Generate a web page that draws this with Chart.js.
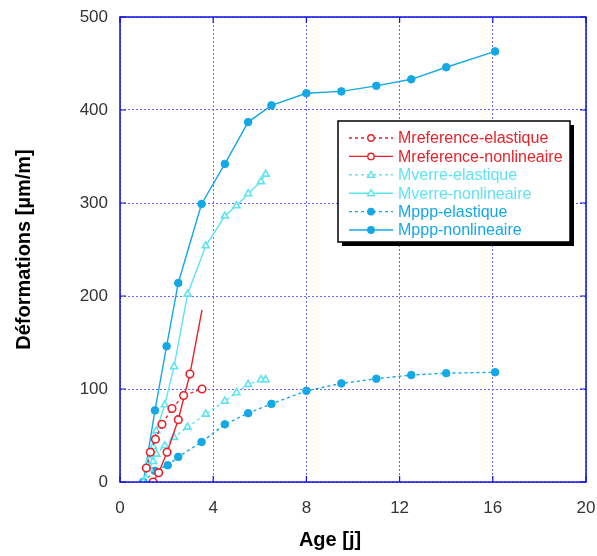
<!DOCTYPE html>
<html lang="fr">
<head>
<meta charset="UTF-8">
<title>Déformations - Age</title>
<script src="https://cdn.jsdelivr.net/npm/chart.js"></script>
<style>
    body { margin: 0; background: #ffffff; }
    .wrap { width: 597px; height: 556px; }
</style>
</head>
<body>
<div class="wrap"><canvas id="chart" width="597" height="556"></canvas></div>
<script>
    // Données
    const xTicks = [0, 4, 8, 12, 16, 20];
    const yTicks = [0, 100, 200, 300, 400, 500];

    const refElastAge = [1.13, 1.3, 1.52, 1.8, 2.23, 2.73, 3.52];
    const refElastDef = [15, 32, 46, 62, 79, 93, 100];

    const refNonlinAge = [1.42, 1.66, 2.02, 2.5, 3.0, 3.52];
    const refNonlinDef = [0, 10, 32, 67, 116, 185];

    const verreElastAge = [1, 1.27, 1.42, 1.56, 1.92, 2.32, 2.9, 3.68, 4.5, 5.0, 5.5, 6.05, 6.25];
    const verreElastDef = [0, 14, 22, 30, 39, 48, 59, 73, 87, 96, 105, 110, 110];

    const verreNonlinAge = [1, 1.27, 1.42, 1.56, 1.92, 2.32, 2.9, 3.68, 4.5, 5.0, 5.5, 6.05, 6.25];
    const verreNonlinDef = [0, 24, 38, 55, 83, 124, 202, 254, 286, 297, 310, 323, 331];

    const pppElastAge = [1, 1.5, 2.05, 2.5, 3.5, 4.5, 5.5, 6.5, 8, 9.5, 11, 12.5, 14, 16.1];
    const pppElastDef = [0, 12, 18, 27, 43, 62, 74, 84, 98, 106, 111, 115, 117, 118];

    const pppNonlinAge = [1, 1.5, 2.0, 2.5, 3.5, 4.5, 5.5, 6.5, 8, 9.5, 11, 12.5, 14, 16.1];
    const pppNonlinDef = [0, 77, 146, 214, 299, 342, 387, 405, 418, 420, 426, 433, 446, 463];

    const RED = '#e8222a';
    const CYAN = '#5fe3f2';
    const BLUE = '#14a8e6';
    const AXIS = '#1111dd';
    const FONT = '"Liberation Sans", Arial, sans-serif';

    function pts(xs, ys) {
        return xs.map((x, i) => ({ x: x, y: ys[i] }));
    }

    function serie(label, xs, ys, color, dotted, style, filled) {
        return {
            label: label,
            data: pts(xs, ys),
            showLine: true,
            borderColor: color,
            backgroundColor: filled ? color : '#ffffff',
            borderWidth: 1.4,
            borderDash: dotted ? [3, 3] : [],
            pointStyle: style,
            pointRadius: style === 'triangle' ? 4 : 3.8,
            pointBorderWidth: filled ? 1 : 1.6,
            pointBorderColor: color,
            pointBackgroundColor: filled ? color : '#ffffff',
            tension: 0
        };
    }

    const datasets = [
        serie('Mreference-elastique', refElastAge, refElastDef, RED, true, 'circle', false),
        serie('Mreference-nonlineaire', refNonlinAge, refNonlinDef, RED, false, 'circle', false),
        serie('Mverre-elastique', verreElastAge, verreElastDef, CYAN, true, 'triangle', false),
        serie('Mverre-nonlineaire', verreNonlinAge, verreNonlinDef, CYAN, false, 'triangle', false),
        serie('Mppp-elastique', pppElastAge, pppElastDef, BLUE, true, 'circle', true),
        serie('Mppp-nonlineaire', pppNonlinAge, pppNonlinDef, BLUE, false, 'circle', true)
    ];
    // pas de marqueur au bout de la courbe nonlineaire de référence
    datasets[1].pointRadius = refNonlinAge.map((_, i) => i === refNonlinAge.length - 1 ? 0 : 3.8);

    // cadre bleu + petites graduations intérieures + titre de l'axe X
    const framePlugin = {
        id: 'frame',
        afterDraw(chart) {
            const { ctx, chartArea: a, scales } = chart;
            ctx.save();
            ctx.strokeStyle = AXIS;
            ctx.lineWidth = 1.5;
            ctx.setLineDash([]);
            ctx.strokeRect(a.left, a.top, a.right - a.left, a.bottom - a.top);
            ctx.lineWidth = 1.2;
            const len = 6;
            xTicks.forEach(v => {
                const px = scales.x.getPixelForValue(v);
                ctx.beginPath();
                ctx.moveTo(px, a.bottom); ctx.lineTo(px, a.bottom - len);
                ctx.moveTo(px, a.top); ctx.lineTo(px, a.top + len);
                ctx.stroke();
            });
            yTicks.forEach(v => {
                const py = scales.y.getPixelForValue(v);
                ctx.beginPath();
                ctx.moveTo(a.left, py); ctx.lineTo(a.left + len, py);
                ctx.moveTo(a.right, py); ctx.lineTo(a.right - len, py);
                ctx.stroke();
            });
            ctx.fillStyle = '#000000';
            ctx.font = 'bold 20px ' + FONT;
            ctx.textAlign = 'center';
            ctx.textBaseline = 'middle';
            ctx.fillText('Age [j]', 330, 540);
            ctx.restore();
        }
    };

    // légende encadrée avec ombre, dans la zone du graphique
    const legendPlugin = {
        id: 'boxLegend',
        afterDraw(chart) {
            const ctx = chart.ctx;
            const bx = 338, by = 121, bw = 232, bh = 121;
            ctx.save();
            ctx.fillStyle = '#000000';
            ctx.fillRect(bx + 4, by + 4, bw, bh);
            ctx.fillStyle = '#ffffff';
            ctx.fillRect(bx, by, bw, bh);
            ctx.strokeStyle = '#000000';
            ctx.lineWidth = 1.5;
            ctx.strokeRect(bx, by, bw, bh);
            ctx.font = '16px ' + FONT;
            ctx.textBaseline = 'middle';
            chart.data.datasets.forEach((ds, i) => {
                const y = by + 17 + i * 18.4;
                ctx.strokeStyle = ds.borderColor;
                ctx.lineWidth = 1.4;
                ctx.setLineDash(ds.borderDash);
                ctx.beginPath();
                ctx.moveTo(bx + 11, y);
                ctx.lineTo(bx + 55, y);
                ctx.stroke();
                ctx.setLineDash([]);
                ctx.fillStyle = ds.pointBackgroundColor;
                ctx.lineWidth = 1.4;
                ctx.beginPath();
                if (ds.pointStyle === 'triangle') {
                    ctx.moveTo(bx + 33, y - 3.5);
                    ctx.lineTo(bx + 36.5, y + 2.5);
                    ctx.lineTo(bx + 29.5, y + 2.5);
                    ctx.closePath();
                } else {
                    ctx.arc(bx + 33, y, 3.2, 0, Math.PI * 2);
                }
                ctx.fill();
                ctx.stroke();
                ctx.fillStyle = ds.borderColor;
                ctx.fillText(ds.label, bx + 60, y + 1);
            });
            ctx.restore();
        }
    };

    const ctx = document.getElementById('chart').getContext('2d');
    new Chart(ctx, {
        type: 'scatter',
        data: { datasets: datasets },
        options: {
            responsive: false,
            animation: false,
            layout: { padding: { top: 17, right: 11, left: 0, bottom: 0 } },
            plugins: {
                legend: { display: false },
                tooltip: { enabled: false }
            },
            scales: {
                x: {
                    type: 'linear',
                    min: 0,
                    max: 20,
                    afterFit(scale) {
                        scale.height = 74;
                        scale.paddingLeft = 0;
                        scale.paddingRight = 0;
                    },
                    afterBuildTicks(scale) { scale.ticks = xTicks.map(v => ({ value: v })); },
                    ticks: {
                        padding: 16,
                        color: '#333333',
                        font: { family: FONT, size: 17 }
                    },
                    grid: { color: '#6a6aee', lineWidth: 1, drawTicks: false },
                    border: { display: false, dash: [2, 2] }
                },
                y: {
                    type: 'linear',
                    min: 0,
                    max: 500,
                    afterFit(scale) {
                        scale.width = 120;
                        scale.paddingTop = 0;
                        scale.paddingBottom = 0;
                    },
                    afterBuildTicks(scale) { scale.ticks = yTicks.map(v => ({ value: v })); },
                    ticks: {
                        padding: 12,
                        color: '#333333',
                        font: { family: FONT, size: 17 }
                    },
                    grid: { color: '#6a6aee', lineWidth: 1, drawTicks: false },
                    border: { display: false, dash: [2, 2] },
                    title: {
                        display: true,
                        text: 'Déformations [µm/m]',
                        color: '#000000',
                        font: { family: FONT, size: 20, weight: 'bold' },
                        padding: { top: 12, bottom: 0 }
                    }
                }
            }
        },
        plugins: [framePlugin, legendPlugin]
    });
</script>
</body>
</html>
